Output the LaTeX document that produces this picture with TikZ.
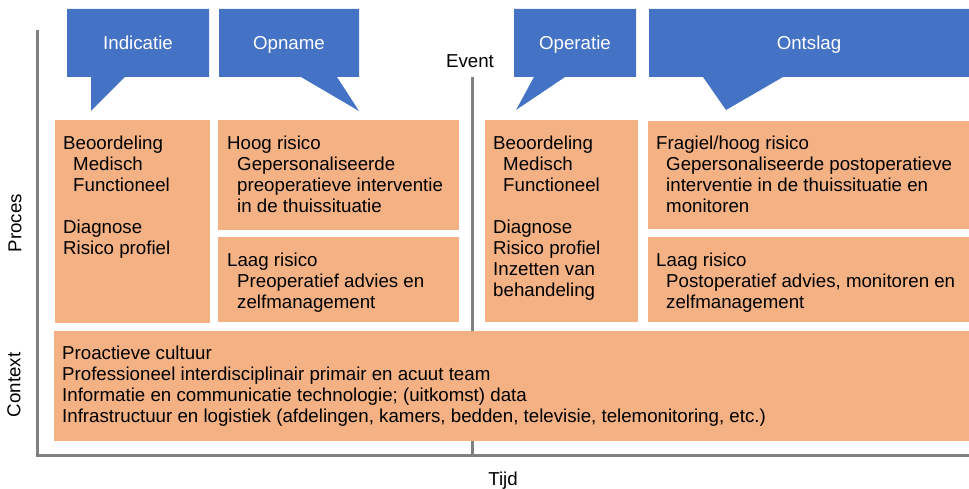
\documentclass[tikz,border=0pt]{standalone}
\usepackage{fontspec}
\setmainfont{Liberation Sans}
\usepackage{xcolor}
\usepackage{tikz}

\definecolor{calloutblue}{HTML}{4472C4}
\definecolor{boxorange}{HTML}{F4B183}
\definecolor{axisgray}{HTML}{808080}
\newcommand{\ind}{\hspace*{10pt}}

\begin{document}
\begin{tikzpicture}[x=1pt,y=-1pt,
  every node/.style={font=\fontsize{18.7}{21}\selectfont},
  callout/.style={fill=calloutblue},
  calltext/.style={text=white,anchor=base},
  procbox/.style={fill=boxorange,anchor=north west,inner sep=0pt},
  boxtext/.style={anchor=north west,align=left,inner sep=0pt},
  axis/.style={draw=axisgray,line width=3pt}]
\useasboundingbox (0,0) rectangle (969,489);

\coordinate (ytop) at (37,30);
\coordinate (origin) at (37,455);
\coordinate (xend) at (969,455);
\coordinate (evtop) at (472,77);
\coordinate (evbot) at (472,455);

\draw[axis] (ytop)--(origin)--(xend);
\draw[axis] (evtop)--(evbot);

\node[anchor=base] (event) at (470,68) {Event};
\node[anchor=base] (tijd) at (503,485) {Tijd};
\node[rotate=90] (proces) at (15,223) {Proces};
\node[rotate=90] (context) at (14,385) {Context};

\fill[callout] (67,9)--(209,9)--(209,77)--(125,77)--(91,111)--(91,77)--(67,77)--cycle;
\node[calltext] (indicatie) at (138,50) {Indicatie};

\fill[callout] (219,9)--(359,9)--(359,77)--(337,77)--(359,111)--(301,77)--(219,77)--cycle;
\node[calltext] (opname) at (289,50) {Opname};

\fill[callout] (514,9)--(636,9)--(636,77)--(565,77)--(516,110)--(534,77)--(514,77)--cycle;
\node[calltext] (operatie) at (575,50) {Operatie};

\fill[callout] (649,9)--(969,9)--(969,77)--(783,77)--(726,110)--(703,77)--(649,77)--cycle;
\node[calltext] (ontslag) at (809,50) {Ontslag};

\node[procbox,minimum width=155pt,minimum height=203pt] (indic) at (55,120) {};
\node[boxtext] (indictxt) at ([xshift=8pt,yshift=-15.5pt]indic.north west)
  {Beoordeling\\ \ind Medisch\\ \ind Functioneel\\[21pt] Diagnose\\ Risico profiel};

\node[procbox,minimum width=241pt,minimum height=110pt] (hoog) at (218,120) {};
\node[boxtext] (hoogtxt) at ([xshift=9pt,yshift=-15.5pt]hoog.north west)
  {Hoog risico\\ \ind Gepersonaliseerde\\ \ind preoperatieve interventie\\ \ind in de thuissituatie};

\node[procbox,minimum width=241pt,minimum height=85pt] (laag) at (218,237) {};
\node[boxtext] (laagtxt) at ([xshift=9pt,yshift=-15.5pt]laag.north west)
  {Laag risico\\ \ind Preoperatief advies en\\ \ind zelfmanagement};

\node[procbox,minimum width=153pt,minimum height=202pt] (operat) at (485,120) {};
\node[boxtext] (operattxt) at ([xshift=8pt,yshift=-15.5pt]operat.north west)
  {Beoordeling\\ \ind Medisch\\ \ind Functioneel\\[21pt] Diagnose\\ Risico profiel\\ Inzetten van\\ behandeling};

\node[procbox,minimum width=321pt,minimum height=108pt] (fragiel) at (648,121) {};
\node[boxtext] (fragieltxt) at ([xshift=8pt,yshift=-14.5pt]fragiel.north west)
  {Fragiel/hoog risico\\ \ind Gepersonaliseerde postoperatieve\\ \ind interventie in de thuissituatie en\\ \ind monitoren};

\node[procbox,minimum width=321pt,minimum height=85pt] (laagpost) at (648,237) {};
\node[boxtext] (laagposttxt) at ([xshift=8pt,yshift=-15.5pt]laagpost.north west)
  {Laag risico\\ \ind Postoperatief advies, monitoren en\\ \ind zelfmanagement};

\node[procbox,minimum width=915pt,minimum height=110pt] (ctx) at (54,331) {};
\node[boxtext] (ctxtxt) at ([xshift=8pt,yshift=-14.5pt]ctx.north west)
  {Proactieve cultuur\\ Professioneel interdisciplinair primair en acuut team\\
   Informatie en communicatie technologie; (uitkomst) data\\
   Infrastructuur en logistiek (afdelingen, kamers, bedden, televisie, telemonitoring, etc.)};
\end{tikzpicture}
\end{document}
